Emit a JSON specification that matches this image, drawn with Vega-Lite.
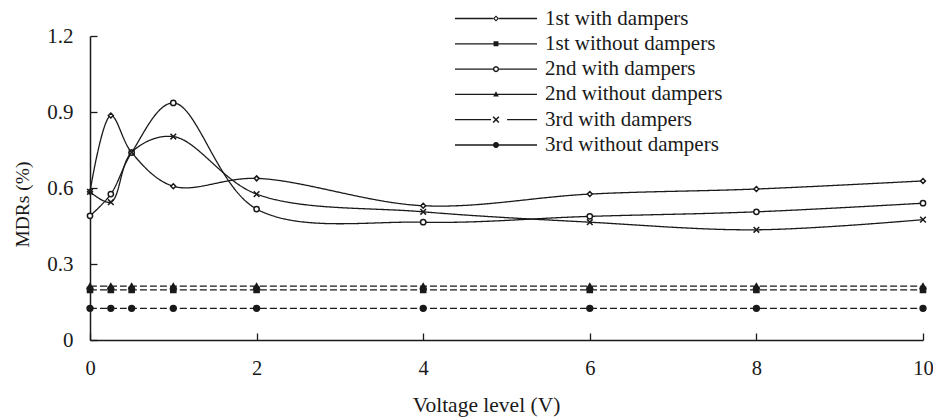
{
  "$schema": "https://vega.github.io/schema/vega-lite/v6.json",
  "width": 833,
  "height": 304,
  "autosize": {"type": "none"},
  "padding": {"left": 90, "top": 36, "right": 10, "bottom": 79},
  "background": "white",
  "config": {
    "view": {"stroke": null},
    "font": "Liberation Serif",
    "axis": {
      "grid": false,
      "domainColor": "#1a1a1a",
      "domainWidth": 1.5,
      "tickColor": "#1a1a1a",
      "tickWidth": 1.3,
      "tickSize": -7,
      "labelFont": "Liberation Serif",
      "labelFontSize": 21,
      "labelColor": "#1a1a1a",
      "labelFlush": false,
      "labelOverlap": false,
      "titleFont": "Liberation Serif",
      "titleFontWeight": "normal",
      "titleColor": "#1a1a1a"
    }
  },
  "data": {
    "values": [
      {"s": "1st with dampers", "d": "with", "x": 0, "y": 0.585},
      {"s": "1st with dampers", "d": "with", "x": 0.25, "y": 0.886},
      {"s": "1st with dampers", "d": "with", "x": 0.5, "y": 0.74},
      {"s": "1st with dampers", "d": "with", "x": 1, "y": 0.607},
      {"s": "1st with dampers", "d": "with", "x": 2, "y": 0.638},
      {"s": "1st with dampers", "d": "with", "x": 4, "y": 0.53},
      {"s": "1st with dampers", "d": "with", "x": 6, "y": 0.576},
      {"s": "1st with dampers", "d": "with", "x": 8, "y": 0.596},
      {"s": "1st with dampers", "d": "with", "x": 10, "y": 0.628},
      {"s": "1st without dampers", "d": "without", "x": 0, "y": 0.198},
      {"s": "1st without dampers", "d": "without", "x": 0.25, "y": 0.198},
      {"s": "1st without dampers", "d": "without", "x": 0.5, "y": 0.198},
      {"s": "1st without dampers", "d": "without", "x": 1, "y": 0.198},
      {"s": "1st without dampers", "d": "without", "x": 2, "y": 0.198},
      {"s": "1st without dampers", "d": "without", "x": 4, "y": 0.198},
      {"s": "1st without dampers", "d": "without", "x": 6, "y": 0.198},
      {"s": "1st without dampers", "d": "without", "x": 8, "y": 0.198},
      {"s": "1st without dampers", "d": "without", "x": 10, "y": 0.198},
      {"s": "2nd with dampers", "d": "with", "x": 0, "y": 0.49},
      {"s": "2nd with dampers", "d": "with", "x": 0.25, "y": 0.576},
      {"s": "2nd with dampers", "d": "with", "x": 0.5, "y": 0.74},
      {"s": "2nd with dampers", "d": "with", "x": 1, "y": 0.936},
      {"s": "2nd with dampers", "d": "with", "x": 2, "y": 0.517},
      {"s": "2nd with dampers", "d": "with", "x": 4, "y": 0.465},
      {"s": "2nd with dampers", "d": "with", "x": 6, "y": 0.488},
      {"s": "2nd with dampers", "d": "with", "x": 8, "y": 0.506},
      {"s": "2nd with dampers", "d": "with", "x": 10, "y": 0.54},
      {"s": "2nd without dampers", "d": "without", "x": 0, "y": 0.213},
      {"s": "2nd without dampers", "d": "without", "x": 0.25, "y": 0.213},
      {"s": "2nd without dampers", "d": "without", "x": 0.5, "y": 0.213},
      {"s": "2nd without dampers", "d": "without", "x": 1, "y": 0.213},
      {"s": "2nd without dampers", "d": "without", "x": 2, "y": 0.213},
      {"s": "2nd without dampers", "d": "without", "x": 4, "y": 0.213},
      {"s": "2nd without dampers", "d": "without", "x": 6, "y": 0.213},
      {"s": "2nd without dampers", "d": "without", "x": 8, "y": 0.213},
      {"s": "2nd without dampers", "d": "without", "x": 10, "y": 0.213},
      {"s": "3rd with dampers", "d": "with", "x": 0, "y": 0.585},
      {"s": "3rd with dampers", "d": "with", "x": 0.25, "y": 0.544},
      {"s": "3rd with dampers", "d": "with", "x": 0.5, "y": 0.741},
      {"s": "3rd with dampers", "d": "with", "x": 1, "y": 0.803},
      {"s": "3rd with dampers", "d": "with", "x": 2, "y": 0.576},
      {"s": "3rd with dampers", "d": "with", "x": 4, "y": 0.506},
      {"s": "3rd with dampers", "d": "with", "x": 6, "y": 0.465},
      {"s": "3rd with dampers", "d": "with", "x": 8, "y": 0.435},
      {"s": "3rd with dampers", "d": "with", "x": 10, "y": 0.475},
      {"s": "3rd without dampers", "d": "without", "x": 0, "y": 0.125},
      {"s": "3rd without dampers", "d": "without", "x": 0.25, "y": 0.125},
      {"s": "3rd without dampers", "d": "without", "x": 0.5, "y": 0.125},
      {"s": "3rd without dampers", "d": "without", "x": 1, "y": 0.125},
      {"s": "3rd without dampers", "d": "without", "x": 2, "y": 0.125},
      {"s": "3rd without dampers", "d": "without", "x": 4, "y": 0.125},
      {"s": "3rd without dampers", "d": "without", "x": 6, "y": 0.125},
      {"s": "3rd without dampers", "d": "without", "x": 8, "y": 0.125},
      {"s": "3rd without dampers", "d": "without", "x": 10, "y": 0.125}
    ]
  },
  "encoding": {
    "x": {
      "field": "x",
      "type": "quantitative",
      "scale": {"domain": [0, 10], "nice": false, "zero": false},
      "axis": {
        "values": [0, 2, 4, 6, 8, 10],
        "title": "Voltage level (V)",
        "labelPadding": 25,
        "labelFontSize": 20.5,
        "titleFontSize": 21.5,
        "titleX": 396,
        "titleY": 71,
        "titleAlign": "center",
        "titleBaseline": "alphabetic"
      }
    },
    "y": {
      "field": "y",
      "type": "quantitative",
      "scale": {"domain": [0, 1.2], "nice": false},
      "axis": {
        "values": [0, 0.3, 0.6, 0.9, 1.2],
        "format": ".1~f",
        "title": "MDRs (%)",
        "labelPadding": 24,
        "titleFontSize": 19.5,
        "titleAngle": -90,
        "titleX": -68,
        "titleY": 168,
        "titleAlign": "center",
        "titleBaseline": "middle"
      }
    }
  },
  "layer": [
    {
      "mark": {"type": "line", "interpolate": "catmull-rom", "strokeWidth": 1.3, "color": "#1a1a1a"},
      "encoding": {
        "detail": {"field": "s", "type": "nominal"},
        "strokeDash": {
          "field": "d",
          "type": "nominal",
          "scale": {"domain": ["with", "without"], "range": [[1, 0], [7, 3]]},
          "legend": null
        }
      }
    },
    {
      "mark": {"type": "point", "filled": false, "stroke": "#1a1a1a", "strokeWidth": 1.5, "opacity": 1},
      "encoding": {
        "shape": {
          "field": "s",
          "type": "nominal",
          "scale": {
            "domain": ["1st with dampers", "1st without dampers", "2nd with dampers", "2nd without dampers", "3rd with dampers", "3rd without dampers"],
            "range": ["diamond", "square", "circle", "triangle-up", "M-1,-1L1,1M-1,1L1,-1", "circle"]
          },
          "legend": null
        },
        "fill": {
          "field": "s",
          "type": "nominal",
          "scale": {
            "domain": ["1st with dampers", "1st without dampers", "2nd with dampers", "2nd without dampers", "3rd with dampers", "3rd without dampers"],
            "range": ["white", "#1a1a1a", "white", "#1a1a1a", "white", "#1a1a1a"]
          },
          "legend": null
        },
        "size": {
          "field": "s",
          "type": "nominal",
          "scale": {
            "domain": ["1st with dampers", "1st without dampers", "2nd with dampers", "2nd without dampers", "3rd with dampers", "3rd without dampers"],
            "range": [24, 34, 34, 40, 34, 36]
          },
          "legend": null
        }
      }
    },
    {
      "transform": [{"filter": "false"}],
      "mark": {"type": "point", "filled": true, "color": "#1a1a1a", "strokeWidth": 0, "opacity": 1},
      "encoding": {
        "shape": {
          "field": "s",
          "type": "nominal",
          "scale": {
            "domain": ["1st with dampers", "1st without dampers", "2nd with dampers", "2nd without dampers", "3rd with dampers", "3rd without dampers"],
            "range": [
              "M-1,-0.016H-0.075V0.016H-1Z M0.075,-0.016H1V0.016H0.075Z M0,-0.075L0.075,0L0,0.075L-0.075,0Z M0,-0.035L-0.035,0L0,0.035L0.035,0Z",
              "M-1,-0.016H1V0.016H-1Z M-0.06,-0.06H0.06V0.06H-0.06Z",
              "M-1,-0.016H-0.073V0.016H-1Z M0.073,-0.016H1V0.016H0.073Z M0.075,0L0.065,0.0375L0.0375,0.065L0,0.075L-0.0375,0.065L-0.065,0.0375L-0.075,0L-0.065,-0.0375L-0.0375,-0.065L0,-0.075L0.0375,-0.065L0.065,-0.0375Z M0.04,0L0.0346,-0.02L0.02,-0.0346L0,-0.04L-0.02,-0.0346L-0.0346,-0.02L-0.04,0L-0.0346,0.02L-0.02,0.0346L0,0.04L0.02,0.0346L0.0346,0.02Z",
              "M-1,-0.016H1V0.016H-1Z M0,-0.078L0.07,0.05L-0.07,0.05Z",
              "M-1,-0.016H-0.12V0.016H-1Z M0.27,-0.016H1V0.016H0.27Z M-0.057,-0.083L0.083,0.057L0.057,0.083L-0.083,-0.057Z M0.057,-0.083L0.083,-0.057L-0.057,0.083L-0.083,0.057Z",
              "M-1,-0.016H1V0.016H-1Z M0.075,0L0.065,0.0375L0.0375,0.065L0,0.075L-0.0375,0.065L-0.065,0.0375L-0.075,0L-0.065,-0.0375L-0.0375,-0.065L0,-0.075L0.0375,-0.065L0.065,-0.0375Z"
            ]
          },
          "legend": {
            "title": null,
            "orient": "none",
            "legendX": 365,
            "legendY": -29,
            "padding": 0,
            "symbolSize": 6724,
            "clipHeight": 23,
            "rowPadding": 2.3,
            "labelFont": "Liberation Serif",
            "labelFontSize": 21,
            "labelColor": "#1a1a1a",
            "labelOffset": 8,
            "labelLimit": 400,
            "symbolStrokeWidth": 0,
            "symbolFillColor": "#1a1a1a",
            "symbolOpacity": 1
          }
        }
      }
    }
  ],
  "resolve": {"scale": {"shape": "independent", "fill": "independent", "size": "independent"}}
}
